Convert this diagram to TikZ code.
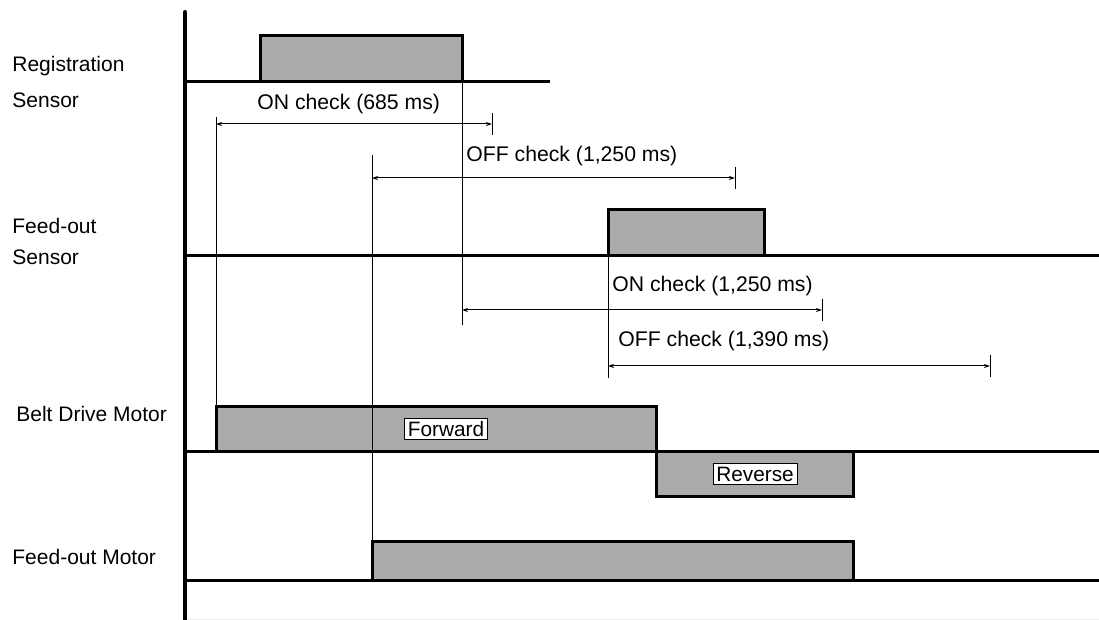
\documentclass[tikz,border=0pt]{standalone}
\usepackage{fontspec}
\setmainfont{Liberation Sans}
\usepackage{tikz}
\usetikzlibrary{arrows.meta,calc,positioning}
\definecolor{pulse}{RGB}{170,170,170}

\begin{document}
\begin{tikzpicture}[x=0.5pt,y=-0.5pt,
  sig/.style={line width=1.5pt},
  pulsebox/.style={fill=pulse,line width=1.5pt},
  guide/.style={line width=0.5pt},
  chk/.style={line width=0.5pt,{Stealth[length=3pt,width=2pt]}-{Stealth[length=3pt,width=2pt]}},
  lbl/.style={font=\fontsize{10.5}{12}\selectfont,anchor=west,inner sep=0pt},
  txt/.style={font=\fontsize{10.6}{12}\selectfont,anchor=west,inner sep=0pt},
  tag/.style={draw,fill=white,line width=0.4pt,inner sep=1.6pt,font=\fontsize{10.4}{12}\selectfont}]
  \useasboundingbox (0,0) rectangle (1099,620);
  \draw[gray!12,line width=0.5pt] (185,619) -- (1099,619);
  % time axis
  \draw[line width=2pt,line cap=round] (185,12) -- (185,620);
  % signal names
  \node[lbl] (regA) at (12,66) {Registration};
  \node[lbl] (regB) at (12,100) {Sensor};
  \node[lbl] (fosA) at (12,226) {Feed-out};
  \node[lbl] (fosB) at (12,257) {Sensor};
  \node[lbl] (belt) at (16,414) {Belt Drive Motor};
  \node[lbl] (fom)  at (12,557) {Feed-out Motor};
  % waveforms
  \filldraw[pulsebox] (260,82) -- (260,36) -- (462,36) -- (462,82);
  \draw[sig] (185,82) -- (550,82);
  \filldraw[pulsebox] (608,256) -- (608,210) -- (764,210) -- (764,256);
  \draw[sig] (185,256) -- (1099,256);
  \filldraw[pulsebox] (216,452) -- (216,407) -- (656,407) -- (656,452);
  \filldraw[pulsebox] (656,452) -- (656,497) -- (853,497) -- (853,452);
  \draw[sig] (185,452) -- (1099,452);
  \filldraw[pulsebox] (372,580) -- (372,541) -- (853,541) -- (853,580);
  \draw[sig] (185,580) -- (1099,580);
  \node[tag] (fwd) at (446,429) {Forward};
  \node[tag] (rev) at (755,474) {Reverse};
  % check intervals
  \coordinate (c1a) at (216,124); \coordinate (c1b) at (492,124);
  \coordinate (c2a) at (372,178); \coordinate (c2b) at (735,178);
  \coordinate (c3a) at (462,310); \coordinate (c3b) at (822,310);
  \coordinate (c4a) at (608,366); \coordinate (c4b) at (990,366);
  \draw[guide] (216,117) -- (216,407);
  \draw[guide] (462,82) -- (462,325);
  \draw[guide] (372,155) -- (372,541);
  \draw[guide] (608,256) -- (608,378);
  \foreach \e in {c1b,c2b,c3b,c4b}
    \draw[guide] ($(\e)+(0,-11)$) -- ($(\e)+(0,11)$);
  \draw[chk] (c1a) -- (c1b);
  \draw[chk] (c2a) -- (c2b);
  \draw[chk] (c3a) -- (c3b);
  \draw[chk] (c4a) -- (c4b);
  \node[txt] (t1) at (257,104) {ON check (685 ms)};
  \node[txt] (t2) at (466,156) {OFF check (1,250 ms)};
  \node[txt] (t3) at (612,286) {ON check (1,250 ms)};
  \node[txt] (t4) at (618,341) {OFF check (1,390 ms)};
\end{tikzpicture}
\end{document}
